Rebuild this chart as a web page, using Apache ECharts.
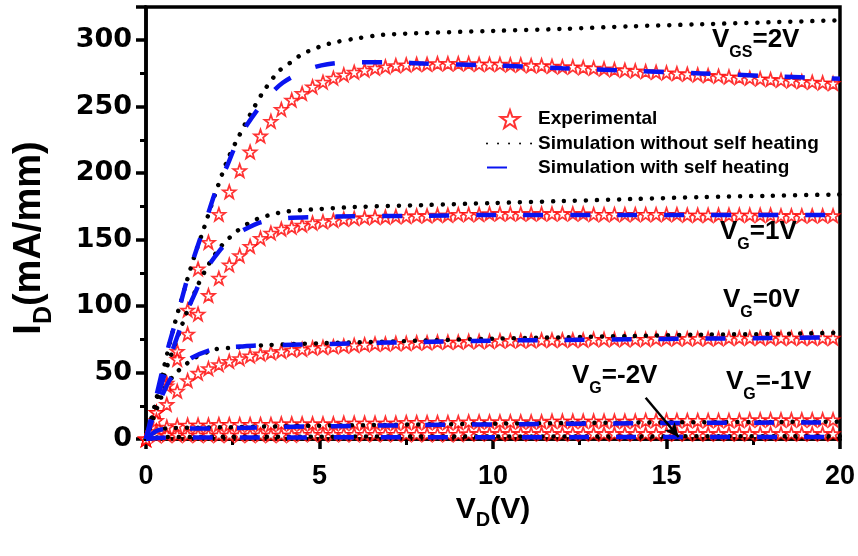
<!DOCTYPE html>
<html lang="en">
<head>
  <meta charset="UTF-8">
  <title>ID-VD</title>
  <style>
    html, body { margin: 0; padding: 0; background: #fff; }
    #main { width: 858px; height: 556px; }
  </style>
</head>
<body>
  <div id="main"></div>
  <script src="https://cdn.jsdelivr.net/npm/echarts@6/dist/echarts.min.js"></script>
  <script>
    // drain voltage of the measured points (V)
    const vExp = [0,0.3,0.6,0.9,1.2,1.5,1.8,2.1,2.4,2.7,3,3.3,3.6,3.9,4.2,4.5,4.8,5.1,5.4,5.7,
      6,6.3,6.6,6.9,7.2,7.5,7.8,8.1,8.4,8.7,9,9.3,9.6,9.9,10.2,10.5,10.8,11.1,11.4,11.7,
      12,12.3,12.6,12.9,13.2,13.5,13.8,14.1,14.4,14.7,15,15.3,15.6,15.9,16.2,16.5,16.8,17.1,17.4,17.7,
      18,18.3,18.6,18.9,19.2,19.5,19.8];

    // measured ID (mA/mm), one value per vExp
    const expVg2 = [0,20,42,66,97,128,148,169,186,202,216,228,239,248,255,260,265,268.5,271.5,274,
      276,277.5,279,280,281,281.5,282,282,282.5,282.5,282.5,282.5,282,282,282,281.5,281.5,281,281,280.5,
      280,280,279.5,279,278.5,278,277.5,277,276.5,276,275.5,275,274.5,274,273.5,273,272.5,272,271.5,271,
      270.5,270,269.5,269,268.5,268,267.5];
    const expVg1 = [0,20,40,60,79,94,108,121,131,138,145,151,155,158,159.5,161,162.5,163.5,164.5,165.5,
      166,166.5,167,167,167.5,167.5,168,168,168.5,168.5,169,169,169,169.5,169.5,169.5,169.5,169.5,169.5,169.5,
      169.5,169.5,169.5,169,169,169,169,169,169,169,169,169,168.5,168.5,168.5,168.5,168.5,168.5,168.5,168.5,
      168.5,168,168,168,168,168,168];
    const expVg0 = [0,14,26,36,44,49.5,53,56,58.5,60.5,62.5,64,65,66,67,67.5,68.5,69,69.5,70,
      70.5,71,71.5,71.5,72,72,72.5,72.5,73,73,73,73.5,73.5,73.5,74,74,74,74,74.5,74.5,
      74.5,74.5,74.5,75,75,75,75,75,75,75.5,75.5,75.5,75.5,75.5,75.5,75.5,76,76,76,76,
      76,76,76,76,76,76,76];
    const expVgm1 = [0,6,9,10,10.5,10.5,10.5,11,11,11,11,11,11,11.5,11.5,11.5,11.5,11.5,11.5,12,
      12,12,12,12,12,12.5,12.5,12.5,12.5,12.5,12.5,13,13,13,13,13,13,13,13,13.5,
      13.5,13.5,13.5,13.5,13.5,13.5,13.5,13.5,14,14,14,14,14,14,14,14,14,14,14.5,14.5,
      14.5,14.5,14.5,14.5,14.5,14.5,14.5];
    const expVgm2 = [0,2.5,3,3,3,3,3,3,3,3,3,3,3,3,3,3.5,3.5,3.5,3.5,3.5,
      3.5,3.5,3.5,3.5,3.5,3.5,3.5,3.5,3.5,3.5,3.5,4,4,4,4,4,4,4,4,4,
      4,4,4,4,4,4,4,4,4,4,4,4,4,4,4,4,4,4,4,4,
      4,4,4,4,4,4,4];

    // simulation without self heating [VD, ID]
    const simVg2 = [[0,0],[0.25,25],[0.5,52],[0.8,84],[1.1,112],[1.4,138],[1.65,157],[1.95,181],[2.35,210],
      [2.7,229],[3,244],[3.35,260],[3.8,276],[4.15,283],[4.5,289.5],[4.8,293],[5.1,296],[5.45,298.5],
      [6.1,301.5],[6.8,304],[8.1,305.5],[10,307],[12,308.5],[14,310.5],[16,312],[18,313.5],[20,315]];
    const simVg1 = [[0,0],[0.3,28],[0.6,54],[0.9,76],[1.2,97],[1.5,116],[1.8,131],[2.1,143],[2.35,150],
      [2.65,157],[3,163],[3.3,166.5],[3.65,169],[4,171],[5,173],[6,174.5],[8,176],[10,177.5],[12,179],
      [14,180.5],[16,182],[18,183],[20,184]];
    const simVg0 = [[0,0],[0.3,22],[0.55,38],[0.8,48],[1.1,55],[1.4,61],[2,67.5],[2.4,68.5],[3.4,70.5],
      [5,72],[8,74],[10,75.5],[12,76.5],[14,77.5],[16,78.5],[18,79],[20,80]];
    const simVgm1 = [[0,0],[0.3,6],[0.6,8],[1.5,8.5],[5,10],[10,11.5],[15,12.5],[20,13]];
    const simVgm2 = [[0,0],[0.5,1.5],[20,2]];

    // simulation with self heating [VD, ID]
    const shVg2 = [[0,0],[0.29,31.5],[0.6,65],[0.92,94.5],[1.24,125],[1.64,157],[2.04,189],[2.33,205],
      [2.6,222],[2.9,236],[3.4,254],[3.94,268],[4.66,278],[5.23,282],[6,283.5],[7,283.5],[8,282.5],
      [10,281],[12,279],[14,277],[16,275],[18,273],[20,271]];
    const shVg1 = [[0,0],[0.3,28],[0.6,54],[0.9,77],[1.15,94.5],[1.41,109.5],[1.67,125],[2.1,141],
      [2.5,152],[2.8,157],[3.3,163],[4,166],[5,167],[6,167.5],[8,168],[10,168.5],[14,168.5],[20,168.5]];
    const shVg0 = [[0,0],[0.3,24],[0.45,32],[0.72,46],[1,54],[1.35,61.5],[2,68],[2.7,69.5],[3.3,70.5],
      [4.5,71],[6,72],[8,73],[10,74],[12,74.5],[14,75],[16,75.5],[18,76],[20,76.5]];
    const shVgm1 = [[0,0],[0.3,6],[0.6,7.5],[2,8],[5,9.5],[10,11],[15,12],[20,12.5]];
    const shVgm2 = [[0,0],[0.5,1],[20,1.5]];

    // arrow pointing at the VG=-2V curve
    const arrowFrom = [14.4, 31];
    const arrowTo = [15.35, 1.5];

    const FONT = "Arial, 'Liberation Sans', sans-serif";
    const WIDE = "'DejaVu Sans', Arial, sans-serif";
    const STAR = 'path://M50 0L61.76 33.82L97.55 34.55L69.02 56.18L79.39 90.45L50 70L20.61 90.45L30.98 56.18L2.45 34.55L38.24 33.82Z';

    function pairs(ys) {
      return vExp.map(function (v, i) { return [v, ys[i]]; });
    }

    let series = [];
    [expVg2, expVg1, expVg0, expVgm1, expVgm2].forEach(function (ys) {
      series.push({
        name: 'Experimental',
        type: 'scatter',
        symbol: STAR,
        symbolSize: 13,
        z: 2,
        itemStyle: { color: '#fff', borderColor: '#f00', borderWidth: 1.7 },
        data: pairs(ys)
      });
    });
    [simVg2, simVg1, simVg0, simVgm1, simVgm2].forEach(function (d) {
      series.push({
        name: 'Simulation without self heating',
        type: 'line',
        symbol: 'none',
        smooth: 0.3,
        z: 3,
        lineStyle: { color: '#000', width: 4.5, type: [0.01, 11], cap: 'round' },
        itemStyle: { color: '#000' },
        data: d
      });
    });
    [shVg2, shVg1, shVg0, shVgm1, shVgm2].forEach(function (d, k) {
      let s = {
        name: 'Simulation with self heating',
        type: 'line',
        symbol: 'none',
        smooth: 0.3,
        z: 4,
        lineStyle: { color: '#0a14f0', width: 4.5, type: [20, 27] },
        itemStyle: { color: '#0a14f0' },
        data: d
      };
      if (k === 4) {
        s.markLine = {
          silent: true,
          symbol: ['none', 'arrow'],
          symbolSize: [10, 14],
          label: { show: false },
          lineStyle: { color: '#000', width: 2.5, type: 'solid' },
          data: [[{ coord: arrowFrom }, { coord: arrowTo }]]
        };
      }
      series.push(s);
    });

    const labRich = {
      v: { fontFamily: FONT, fontSize: 26, fontWeight: 'bold', color: '#000' },
      s: { fontFamily: FONT, fontSize: 16, fontWeight: 'bold', color: '#000', padding: [26, 0, 0, 0] }
    };
    function gLabel(x, y, sub, rest) {
      return {
        type: 'text', left: x, top: y, z: 10,
        style: { text: '{v|V}{s|' + sub + '}{v|' + rest + '}', rich: labRich }
      };
    }

    const nameRich = {
      a: { fontFamily: FONT, fontSize: 30, fontWeight: 'bold', color: '#000' },
      b: { fontFamily: FONT, fontSize: 20, fontWeight: 'bold', color: '#000', padding: [22, 0, 0, 0] }
    };
    const yNameRich = {
      a: { fontFamily: FONT, fontSize: 38, fontWeight: 'bold', color: '#000' },
      b: { fontFamily: FONT, fontSize: 25, fontWeight: 'bold', color: '#000', padding: [28, 0, 0, 0] }
    };

    const lineLegendStyle = { opacity: 0, color: 'rgba(0,0,0,0)', borderWidth: 0 };

    let myChart = echarts.init(document.getElementById('main'), null, { renderer: 'canvas' });
    let option = {
      animation: false,
      backgroundColor: '#fff',
      grid: {
        show: true, left: 146, right: 15, top: 7, bottom: 117,
        borderColor: '#000', borderWidth: 3.5, backgroundColor: 'transparent'
      },
      legend: {
        orient: 'vertical',
        left: 481, top: 104,
        itemGap: 5,
        itemWidth: 46, itemHeight: 18,
        textStyle: { fontFamily: FONT, fontSize: 19, fontWeight: 'bold', color: '#000' },
        data: [
          { name: 'Experimental' },
          { name: 'Simulation without self heating', itemStyle: lineLegendStyle },
          { name: 'Simulation with self heating', itemStyle: lineLegendStyle }
        ]
      },
      xAxis: {
        type: 'value', min: 0, max: 20, interval: 5,
        name: '{a|V}{b|D}{a|(V)}',
        nameLocation: 'middle', nameGap: 44,
        nameTextStyle: { rich: nameRich },
        axisLine: { show: true, lineStyle: { color: '#000', width: 3.5 } },
        axisTick: { show: true, inside: false, length: 10, lineStyle: { color: '#000', width: 3.5 } },
        minorTick: { show: true, splitNumber: 2, length: 6, lineStyle: { color: '#000', width: 3 } },
        splitLine: { show: false },
        axisLabel: { fontFamily: FONT, fontSize: 27, fontWeight: 'bold', color: '#000', margin: 24 }
      },
      yAxis: {
        type: 'value', min: 0, max: 325, interval: 50,
        axisLine: { show: true, lineStyle: { color: '#000', width: 3.5 } },
        axisTick: { show: true, inside: false, length: 10, lineStyle: { color: '#000', width: 3.5 } },
        minorTick: { show: true, splitNumber: 2, length: 6, lineStyle: { color: '#000', width: 3 } },
        splitLine: { show: false },
        axisLabel: { fontFamily: WIDE, fontSize: 27, fontWeight: 'bold', color: '#000', margin: 14, showMaxLabel: false }
      },
      graphic: [
        {
          type: 'text', x: 30, y: 238, rotation: Math.PI / 2, z: 10,
          style: {
            text: '{a|I}{b|D}{a|(mA/mm)}', rich: yNameRich,
            align: 'center', verticalAlign: 'middle'
          }
        },
        gLabel(712, 27, 'GS', '=2V'),
        gLabel(720, 219, 'G', '=1V'),
        gLabel(723, 287, 'G', '=0V'),
        gLabel(572, 363, 'G', '=-2V'),
        gLabel(726, 369, 'G', '=-1V')
      ],
      series: series
    };
    myChart.setOption(option);
  </script>
</body>
</html>
